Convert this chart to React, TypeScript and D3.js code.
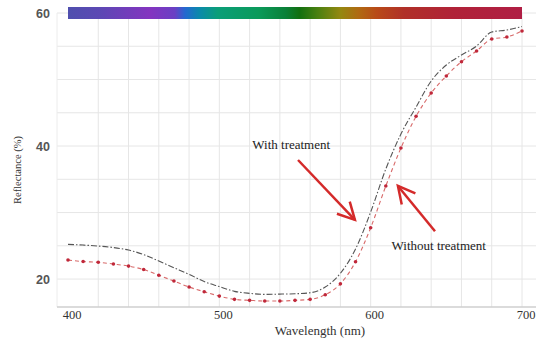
import React from "react";
import * as d3 from "d3";

const wavelengths = [400,410,420,430,440,450,460,470,480,490,500,510,520,530,540,550,560,570,580,590,600,610,620,630,640,650,660,670,680,690,700];
const withTreatment = [25.22,25.11,24.96,24.74,24.36,23.68,22.71,21.71,20.71,19.62,18.87,18.15,17.85,17.7,17.74,17.79,17.94,18.8,20.86,24.51,30.08,36.54,41.8,45.86,49.77,52.18,53.68,55.04,57.14,57.44,57.97];
const withoutTreatment = [22.86,22.63,22.53,22.26,21.95,21.43,20.57,19.7,18.8,18.1,17.44,16.95,16.8,16.7,16.7,16.8,16.95,17.64,19.28,22.6,27.71,33.98,39.7,44.47,47.97,50.53,52.68,54.29,56.09,56.39,57.29];
const xTickLabels = [400, 500, 600, 700];
const yTickLabels = [20, 40, 60];
const xGrid = [420,440,460,480,500,520,540,560,580,600,620,640,660,680,700];
const yGrid = [20,25,30,35,40,45,50,55,60];

const spectrumStops: [number, string][] = [
  [0, "#4f4fae"], [0.07, "#5c48b4"], [0.18, "#8434c0"], [0.235, "#6a40c4"],
  [0.258, "#2468d0"], [0.29, "#0a8aaa"], [0.33, "#0a9e78"], [0.42, "#0a9a5a"],
  [0.48, "#0a8038"], [0.51, "#127010"], [0.55, "#4a8010"], [0.6, "#948810"],
  [0.64, "#b06a12"], [0.68, "#b84a18"], [0.74, "#b03028"], [0.85, "#b02238"], [1, "#b01e44"],
];

const annotations = [
  { label: "With treatment", tx: 547.5, ty: 40.3, fromX: 552, fromY: 37.9, toX: 589.6, toY: 28.9 },
  { label: "Without treatment", tx: 645, ty: 25.1, fromX: 642.5, fromY: 27.2, toX: 618, toY: 34 },
];

const W = 536, H = 342;
const serif = "'Liberation Serif', 'DejaVu Serif', serif";
const sans = "'Liberation Sans', Arial, sans-serif";

export default function App() {
  const x = d3.scaleLinear().domain([400, 700]).range([68, 522]);
  const y = d3.scaleLinear().domain([15.8, 60]).range([307, 13]);
  const line = d3.line<number>().x((_, i) => x(wavelengths[i])).y(d => y(d)).curve(d3.curveMonotoneX);

  const arrowHead = (a: typeof annotations[0]) => {
    const x1 = x(a.fromX), y1 = y(a.fromY), x2 = x(a.toX), y2 = y(a.toY);
    const ang = Math.atan2(y2 - y1, x2 - x1);
    const L = 19, s = Math.PI / 6.5;
    const p1 = [x2 - L * Math.cos(ang - s), y2 - L * Math.sin(ang - s)];
    const p2 = [x2 - L * Math.cos(ang + s), y2 - L * Math.sin(ang + s)];
    return `M${p1[0]},${p1[1]}L${x2},${y2}L${p2[0]},${p2[1]}`;
  };

  return (
    <svg width={W} height={H} style={{ position: "absolute", left: 0, top: 0, background: "#fff" }}>
      <defs>
        <linearGradient id="spec" x1="0" x2="1" y1="0" y2="0">
          {spectrumStops.map(([o, c], i) => <stop key={i} offset={o} stopColor={c} />)}
        </linearGradient>
      </defs>
      <rect width={W} height={H} fill="#fff" />
      {yGrid.map(v => (
        <line key={"hy" + v} x1={57} x2={536} y1={y(v)} y2={y(v)} stroke="#e6e6e6" strokeWidth={1} />
      ))}
      {xGrid.map(v => (
        <line key={"vx" + v} x1={x(v)} x2={x(v)} y1={y(60)} y2={y(15.8)} stroke="#e6e6e6" strokeWidth={1} />
      ))}
      <line x1={57} x2={57} y1={y(60)} y2={y(15.8)} stroke="#ececec" strokeWidth={1} />
      <line x1={57} x2={536} y1={y(15.8)} y2={y(15.8)} stroke="#cfcfcf" strokeWidth={1.5} />
      <rect x={x(400)} y={7} width={x(700) - x(400)} height={12} fill="url(#spec)" />

      <path d={line(withTreatment) || ""} fill="none" stroke="#555" strokeWidth={1.1} strokeDasharray="6,2,1.5,2" />
      <path d={line(withoutTreatment) || ""} fill="none" stroke="#d86a6a" strokeWidth={1.1} strokeDasharray="4,3" />
      {withoutTreatment.map((v, i) => (
        <circle key={"d" + i} cx={x(wavelengths[i])} cy={y(v)} r={1.8} fill="#c0283a" />
      ))}

      {xTickLabels.map(v => (
        <text key={"xt" + v} x={x(v) + 4} y={319} textAnchor="middle" fontFamily={serif} fontSize={12.5} fill="#333">{v}</text>
      ))}
      {yTickLabels.map(v => (
        <text key={"yt" + v} x={50} y={y(v) + 4.5} textAnchor="end" fontFamily={sans} fontSize={12.5} fontWeight={600} fill="#555">{v}</text>
      ))}
      <text x={320} y={335} textAnchor="middle" fontFamily={serif} fontSize={13} fill="#333">Wavelength (nm)</text>
      <text transform="translate(21,170) rotate(-90)" textAnchor="middle" fontFamily={serif} fontSize={10.5} fill="#333">Reflectance (%)</text>

      {annotations.map((a, i) => (
        <g key={"a" + i}>
          <text x={x(a.tx)} y={y(a.ty) + 4.5} textAnchor="middle" fontFamily={serif} fontSize={13} fill="#222">{a.label}</text>
          <line x1={x(a.fromX)} y1={y(a.fromY)} x2={x(a.toX)} y2={y(a.toY)} stroke="#d42a2a" strokeWidth={2.5} />
          <path d={arrowHead(a)} fill="none" stroke="#d42a2a" strokeWidth={2.5} strokeLinejoin="miter" />
        </g>
      ))}
    </svg>
  );
}
